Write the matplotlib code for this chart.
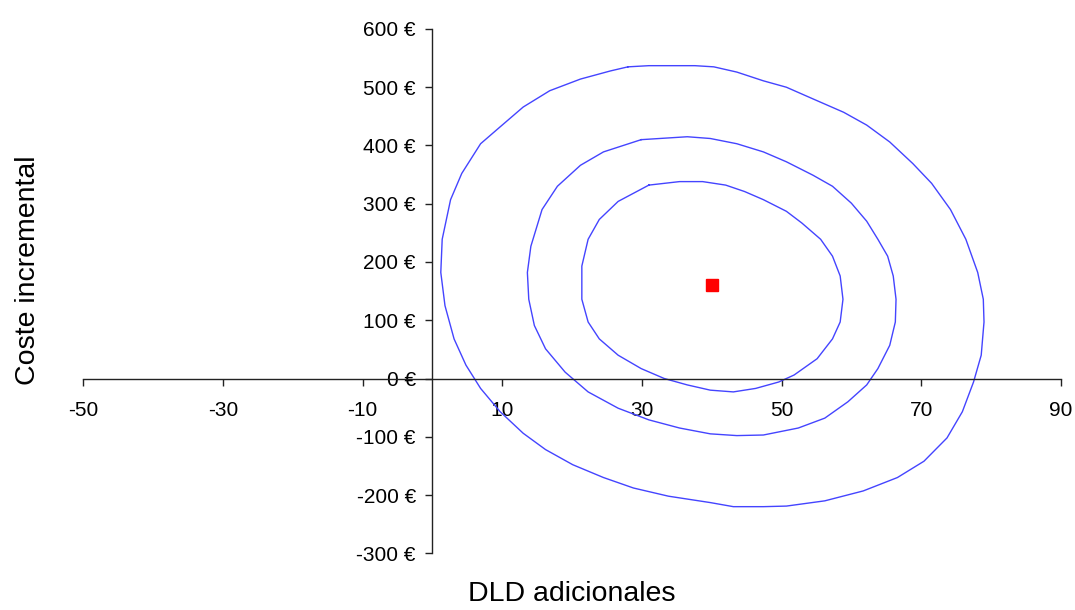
import matplotlib
matplotlib.use('Agg')
import matplotlib.pyplot as plt
from matplotlib.ticker import FuncFormatter

plt.rcParams['font.family'] = ['Liberation Sans', 'DejaVu Sans']
plt.rcParams['axes.unicode_minus'] = False

# punto estimado (DLD, coste)
punto_x = [40]
punto_y = [160]

# contorno exterior
ext_x = [28.0, 31.0, 37.6, 40.3, 43.6, 47.4, 50.7, 54.5, 58.9, 62.2, 65.5, 68.8, 71.5, 74.2, 76.4,
         78.1, 78.9, 79.0, 78.6, 77.5, 75.9, 73.7, 70.4, 66.6, 61.7, 56.2, 50.7, 47.4, 43.1, 39.8,
         33.8, 28.8, 24.5, 20.1, 16.2, 13.0, 9.7, 6.9, 4.8, 3.1, 1.8, 1.2, 1.4, 2.6, 4.2, 6.9, 9.7,
         13.0, 16.8, 21.2, 25.5, 28.0]
ext_y = [535, 537, 537, 535, 526, 511, 500, 480, 457, 435, 406, 369, 335, 290, 239,
         182, 136, 97, 40, -6, -57, -102, -142, -170, -193, -210, -219, -220, -220, -213,
         -202, -188, -170, -148, -122, -94, -57, -17, 23, 68, 125, 182, 239, 307, 352, 403, 432,
         466, 494, 514, 528, 535]

# contorno medio
med_x = [29.9, 36.5, 39.8, 43.6, 47.4, 50.7, 54.5, 57.3, 60.0, 62.2, 63.8, 65.2, 66.0, 66.4, 66.3,
         65.5, 63.8, 62.2, 59.5, 56.2, 52.4, 47.4, 43.6, 39.8, 35.4, 31.0, 26.6, 22.3, 19.0, 16.2,
         14.6, 13.8, 13.6, 14.1, 15.7, 17.9, 21.2, 24.5, 29.9]
med_y = [410, 415, 412, 403, 389, 372, 349, 330, 301, 270, 239, 210, 176, 136, 97,
         57, 17, -11, -40, -68, -85, -97, -98, -95, -85, -71, -51, -23, 11, 51,
         91, 136, 182, 227, 290, 330, 366, 389, 410]

# contorno interior
int_x = [31.0, 35.4, 38.7, 42.0, 44.7, 47.4, 50.7, 52.9, 55.6, 57.3, 58.4, 58.8, 58.4, 57.3, 55.1,
         51.8, 49.6, 46.3, 43.1, 39.8, 36.5, 33.2, 29.9, 26.6, 23.9, 22.3, 21.4, 21.4, 22.3, 23.9,
         26.6, 31.0]
int_y = [332, 338, 338, 332, 321, 307, 287, 267, 239, 210, 176, 136, 97, 68, 34,
         6, -6, -17, -23, -20, -11, 0, 17, 40, 68, 97, 136, 193, 239, 273,
         304, 332]

xticks = [-50, -30, -10, 10, 30, 50, 70, 90]
yticks = [-300, -200, -100, 0, 100, 200, 300, 400, 500, 600]

fig = plt.figure(figsize=(10.75, 6.1), dpi=100)
ax = fig.add_axes([0.0775, 0.093, 0.9093, 0.8595])

azul = '#4444ff'
ax.plot(ext_x, ext_y, color=azul, lw=1.0)
ax.plot(med_x, med_y, color=azul, lw=1.0)
ax.plot(int_x, int_y, color=azul, lw=1.0)
ax.plot(punto_x, punto_y, 's', color='red', ms=9, mec='red')

ax.set_xlim(-50, 90)
ax.set_ylim(-300, 600)
ax.set_xticks(xticks)
ax.set_yticks(yticks)
ax.yaxis.set_major_formatter(FuncFormatter(lambda v, p: '%d €' % v))

ax.spines['left'].set_position(('data', 0))
ax.spines['bottom'].set_position(('data', 0))
ax.spines['top'].set_visible(False)
ax.spines['right'].set_visible(False)
for s in ['left', 'bottom']:
    ax.spines[s].set_color('#222222')
    ax.spines[s].set_linewidth(1.0)

ax.tick_params(axis='x', direction='out', length=5, width=1, color='#222222',
               labelsize=15, pad=11)
ax.tick_params(axis='y', direction='out', length=5, width=1, color='#222222',
               labelsize=15, pad=7)

fig.text(0.532, 0.026, 'DLD adicionales', ha='center', va='center', fontsize=20.5)
fig.text(0.026, 0.557, 'Coste incremental', ha='center', va='center', fontsize=20.5,
         rotation=90)

fig.savefig('out.png', dpi=100)
